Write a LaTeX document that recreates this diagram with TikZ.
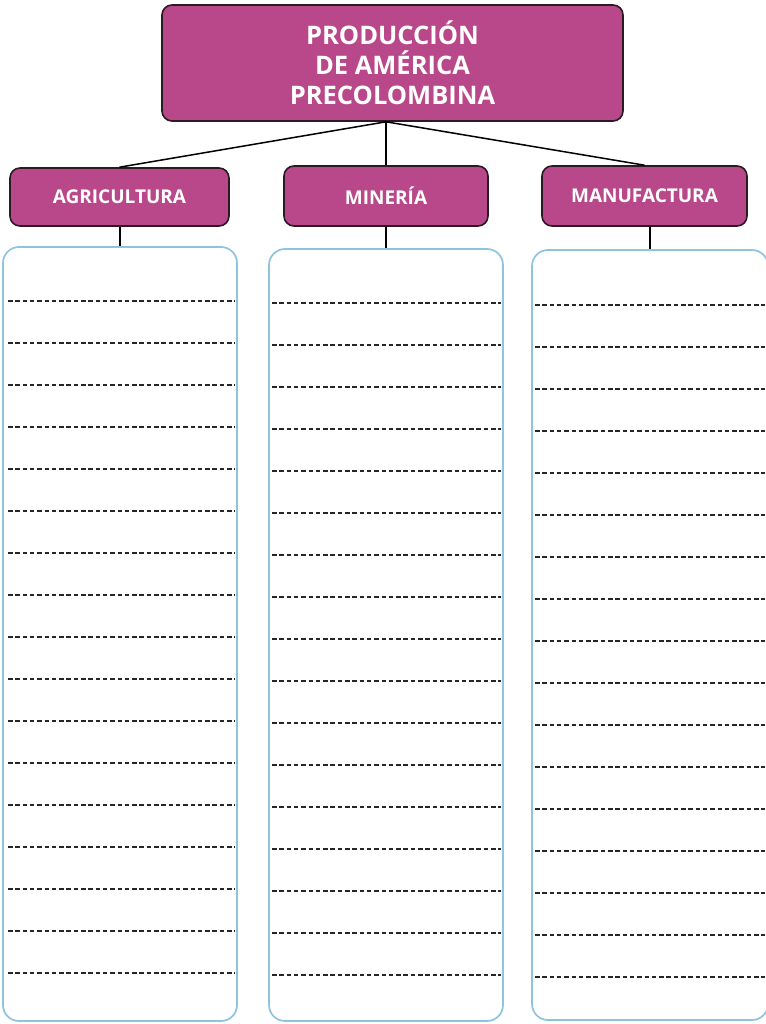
\documentclass[tikz,border=0pt]{standalone}
\usepackage{fontspec}
\setmainfont{Open Sans}
\usetikzlibrary{positioning}

\definecolor{plum}{HTML}{B9488B}
\definecolor{skyline}{HTML}{8EC4DE}
\definecolor{inkline}{HTML}{2A1A22}

\begin{document}
\begin{tikzpicture}[x=1pt, y=-1pt,
    head/.style={draw=inkline, line width=1.6pt, fill=plum, rounded corners=10pt, text=white, align=center, inner sep=0pt},
    sheet/.style={draw=skyline, line width=1.7pt, rounded corners=16pt, inner sep=0pt},
    writeline/.style={dash pattern=on 4.5pt off 2.8pt, line width=1.3pt, draw=black!85}]
            \useasboundingbox (0,0) rectangle (765,1024);

            % Nodes
            \node[head, minimum width=461pt, minimum height=116pt, font=\bfseries\fontsize{25.5}{30}\selectfont] (prod) at (392.5, 63) {PRODUCCIÓN\\DE AMÉRICA\\PRECOLOMBINA};
            \node[head, minimum width=219pt, minimum height=58pt, font=\bfseries\fontsize{19}{22}\selectfont] (agri) at (119.5, 197) {AGRICULTURA};
            \node[head, minimum width=204pt, minimum height=60pt, font=\bfseries\fontsize{19}{22}\selectfont] (mine) at (386, 196) {MINERÍA};
            \node[head, minimum width=205pt, minimum height=60pt, font=\bfseries\fontsize{19}{22}\selectfont] (manu) at (644.5, 196) {MANUFACTURA};

            \node[sheet, minimum width=234pt, minimum height=774pt] (agribox) at (120, 634) {};
            \node[sheet, minimum width=234pt, minimum height=772pt] (minebox) at (386, 635) {};
            \node[sheet, minimum width=236pt, minimum height=770pt] (manubox) at (650, 635) {};

            % Lines
            \coordinate (hub) at (prod.south -| mine.north);
            \draw[line width=1.5pt] (hub) -- (agri.north);
            \draw[line width=1.5pt] (hub) -- (mine.north);
            \draw[line width=1.5pt] (hub) -- (manu.north);
            \draw[line width=1.5pt] (agribox.north) -- (agribox.north |- agri.south);
            \draw[line width=1.5pt] (minebox.north) -- (minebox.north |- mine.south);
            \draw[line width=1.5pt] (manubox.north) -- (manubox.north |- manu.south);

            % Dashed rows
            \foreach \k in {0,...,16} {
                \draw[writeline] (8, {301+42*\k}) -- (235, {301+42*\k});
                \draw[writeline] (272, {303+42*\k}) -- (501, {303+42*\k});
                \draw[writeline] (535, {305+42*\k}) -- (765, {305+42*\k});
            }
        \end{tikzpicture}
\end{document}
